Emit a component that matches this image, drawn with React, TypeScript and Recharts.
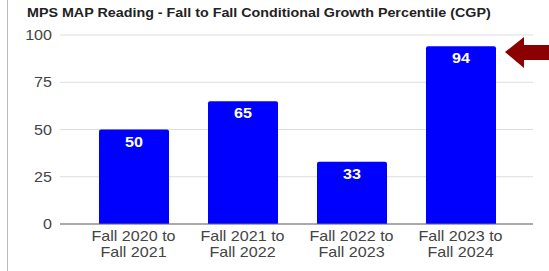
import { BarChart, Bar, XAxis, YAxis, CartesianGrid, LabelList } from 'recharts';

document.body.style.margin = '0';

const periods = ['Fall 2020 to|Fall 2021', 'Fall 2021 to|Fall 2022', 'Fall 2022 to|Fall 2023', 'Fall 2023 to|Fall 2024'];
const cgp = [50, 65, 33, 94];
const yTicks = [0, 25, 50, 75, 100];

const data = periods.map((p, i) => ({ period: p, cgp: cgp[i] }));

const FONT = '"Liberation Sans", Arial, sans-serif';
// the screenshot is stretched sideways a little, so text is widened to match
const STRETCH = 1.15;

function PeriodTick({ x, y, payload }: any) {
  const lines = String(payload.value).split('|');
  return (
    <g transform={`translate(${x},${y - 8}) scale(${STRETCH},1)`}>
      {lines.map((l, i) => (
        <text key={i} x={0} y={17 + i * 16} textAnchor="middle" fill="#444" fontSize={14} fontFamily={FONT}>
          {l}
        </text>
      ))}
    </g>
  );
}

function ValueTick({ x, y, payload }: any) {
  return (
    <g transform={`translate(${x},${y}) scale(${STRETCH},1)`}>
      <text x={0} y={5} textAnchor="end" fill="#444" fontSize={14} fontFamily={FONT}>
        {payload.value}
      </text>
    </g>
  );
}

function BarValue({ x, y, width, value }: any) {
  return (
    <g transform={`translate(${x + width / 2},${y + 17}) scale(${STRETCH},1)`}>
      <text x={0} y={0} textAnchor="middle" fill="#fff" fontSize={14} fontWeight="bold" fontFamily={FONT}>
        {value}
      </text>
    </g>
  );
}

export default function App() {
  return (
    <div style={{ position: 'relative', width: 549, height: 271, background: '#fff', overflow: 'hidden' }}>
      <div style={{ position: 'absolute', left: 7, top: 0, width: 1, height: 271, background: '#bbb' }} />
      <div
        style={{
          position: 'absolute',
          left: 27,
          top: 5,
          fontFamily: FONT,
          fontWeight: 'bold',
          fontSize: 13,
          color: '#222',
          whiteSpace: 'nowrap',
          transform: 'scaleX(1.1)',
          transformOrigin: 'left top',
        }}
      >
        MPS MAP Reading - Fall to Fall Conditional Growth Percentile (CGP)
      </div>
      <svg style={{ position: 'absolute', left: 0, top: 0 }} width={549} height={271}>
        <polygon points="505,52 524,37 524,45 549,45 549,60 524,60 524,68" fill="#8b0000" />
      </svg>
      <div style={{ position: 'absolute', left: 0, top: 0 }}>
        <BarChart width={549} height={271} data={data} margin={{ top: 35, right: 16, bottom: 7, left: 0 }}>
          <CartesianGrid horizontal vertical={false} stroke="#ddd" />
          <XAxis
            dataKey="period"
            tick={<PeriodTick />}
            tickLine={false}
            axisLine={{ stroke: '#666' }}
            height={40}
            interval={0}
            padding={{ left: 19, right: 18 }}
          />
          <YAxis
            domain={[0, 100]}
            ticks={yTicks}
            width={60}
            tickLine={false}
            axisLine={false}
            tick={<ValueTick />}
          />
          <Bar dataKey="cgp" fill="#0000ff" barSize={70} radius={[2, 2, 0, 0]} isAnimationActive={false}>
            <LabelList dataKey="cgp" content={<BarValue />} />
          </Bar>
        </BarChart>
      </div>
    </div>
  );
}
